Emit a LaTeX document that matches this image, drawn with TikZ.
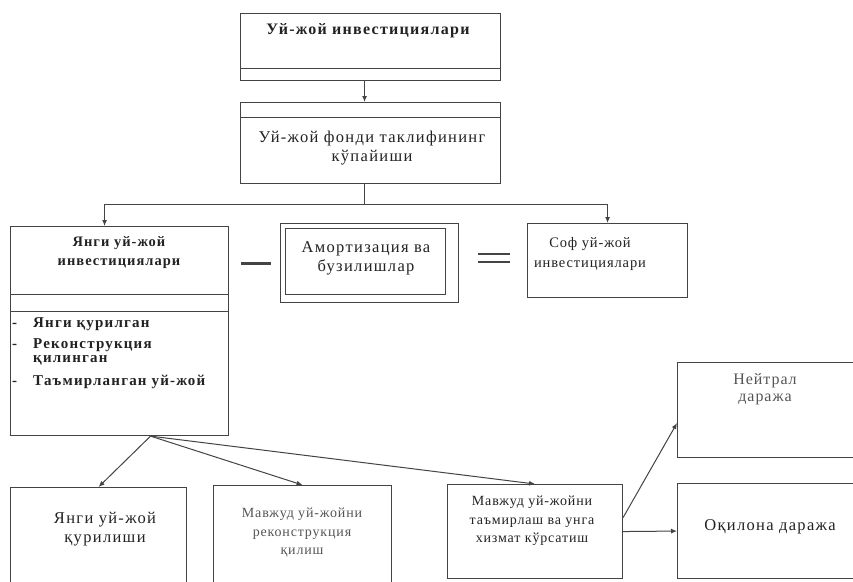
\documentclass[tikz,border=0pt]{standalone}
\usepackage{fontspec}
\setmainfont{Liberation Serif}
\usetikzlibrary{arrows.meta,calc}
\definecolor{lc}{HTML}{444444}
\definecolor{tc}{HTML}{222222}
\definecolor{tl}{HTML}{555555}
\tikzset{
  box/.style={draw=lc, line width=1.1pt, rectangle, inner sep=0pt, anchor=north west},
  ln/.style={draw=lc, line width=1pt},
  arr/.style={draw=lc, line width=1pt, -{Latex[length=6pt,width=5pt]}},
  lbl/.style={text=tc, inner sep=0pt, align=center},
  big/.style={font=\fontsize{16.5}{19}\selectfont\addfontfeature{LetterSpace=8}},
  bigb/.style={font=\bfseries\fontsize{16}{19}\selectfont\addfontfeature{LetterSpace=8}},
  hdb/.style={font=\bfseries\fontsize{14.5}{19}\selectfont\addfontfeature{LetterSpace=7}},
  mid/.style={font=\fontsize{14.5}{20}\selectfont\addfontfeature{LetterSpace=6}},
  small/.style={font=\fontsize{14}{18.5}\selectfont\addfontfeature{LetterSpace=6}},
}
\newcommand{\dashitem}{\makebox[21pt][l]{-}}
\begin{document}
\begin{tikzpicture}[x=1pt,y=-1pt]
\clip (0,0) rectangle (853,581);
\fill[white] (0,0) rectangle (853,581);
% boxes
\node[box, minimum width=260pt, minimum height=67pt] (top) at (240,13) {};
\node[box, minimum width=260pt, minimum height=81pt] (fond) at (240,102) {};
\node[box, minimum width=218pt, minimum height=209pt] (lb) at (10,226) {};
\node[box, minimum width=178pt, minimum height=79pt] (amo) at (280,223) {};
\node[box, minimum width=160pt, minimum height=66pt] (amoin) at (285,228) {};
\node[box, minimum width=160pt, minimum height=74pt] (sof) at (527,223) {};
\node[box, minimum width=176pt, minimum height=110pt] (nq) at (10,487) {};
\node[box, minimum width=178pt, minimum height=110pt] (rk) at (213,485) {};
\node[box, minimum width=175pt, minimum height=94pt] (tm) at (447,484) {};
\node[box, minimum width=190pt, minimum height=95pt] (nt) at (677,362) {};
\node[box, minimum width=190pt, minimum height=95pt] (ok) at (677,483) {};
% inner band lines
\draw[ln] (top.west |- 0,68) -- (top.east |- 0,68);
\draw[ln] (fond.west |- 0,117) -- (fond.east |- 0,117);
\draw[ln] (lb.west |- 0,294) -- (lb.east |- 0,294);
\draw[ln] (lb.west |- 0,311) -- (lb.east |- 0,311);
% texts
\node[lbl, bigb] (t1) at (368,31) {Уй-жой инвестициялари};
\node[lbl, big] (t2) at (372,148) {Уй-жой фонди таклифининг\\кўпайиши};
\node[lbl, hdb] (t3) at (119,253) {Янги уй-жой\\инвестициялари};
\node[lbl, big] (t4) at (366,258) {Амортизация ва\\бузилишлар};
\node[lbl, mid] (t5) at (590,254) {Соф уй-жой\\инвестициялари};
\node[lbl, anchor=north west, align=left, font=\bfseries\fontsize{15}{14}\selectfont\addfontfeature{LetterSpace=8}] (t6) at (12,317) {\dashitem Янги қурилган\\[7pt]
\dashitem Реконструкция\\\hspace*{21pt}қилинган\\[9pt]
\dashitem Таъмирланган уй-жой};
\node[lbl, big] (t7) at (105,529) {Янги уй-жой\\қурилиши};
\node[lbl, small, text=tl] (t8) at (302,533) {Мавжуд уй-жойни\\реконструкция\\қилиш};
\node[lbl, small] (t9) at (532,521) {Мавжуд уй-жойни\\таъмирлаш ва унга\\хизмат кўрсатиш};
\node[lbl, big, text=tl, font=\fontsize{16}{17}\selectfont\addfontfeature{LetterSpace=6}] (t10) at (765,389) {Нейтрал\\даража};
\node[lbl, big] (t11) at (770,527) {Оқилона даража};
% operators
\node[inner sep=0pt, minimum width=30pt] (minus) at (256,263) {};
\draw[draw=lc, line width=3pt] (minus.west) -- (minus.east);
\node[inner sep=0pt, minimum width=32pt, minimum height=8pt] (eq) at (494,258) {};
\draw[draw=lc, line width=2.2pt] (eq.north west) -- (eq.north east);
\draw[draw=lc, line width=2.2pt] (eq.south west) -- (eq.south east);
% connectors
\draw[arr] ([xshift=-6pt]top.south) -- ([xshift=-6pt]fond.north);
\draw[ln] ([xshift=-6pt]fond.south) -- ++(0,20) coordinate (br);
\draw[arr] (br) -| ([xshift=-15pt]lb.north);
\draw[arr] (br) -| (sof.north);
\coordinate (src) at ([xshift=31pt]lb.south);
\draw[arr] (src) -- (nq.north);
\draw[arr] (src) -- (rk.north);
\draw[arr] (src) -- (tm.north);
\draw[arr] ([yshift=14pt]tm.east) -- ([yshift=-13pt]nt.west);
\draw[arr] (tm.east) -- (ok.west);
\end{tikzpicture}
\end{document}
